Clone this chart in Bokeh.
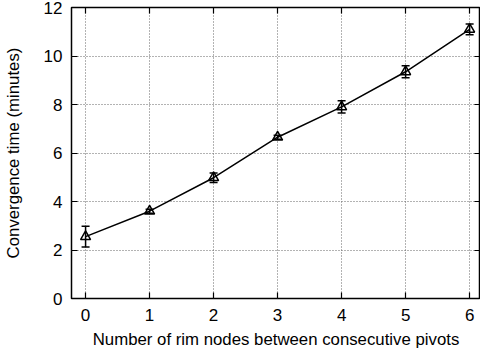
from bokeh.plotting import figure
from bokeh.models import (ColumnDataSource, Whisker, LinearAxis, FixedTicker, Range1d,
                          CustomJSTickFormatter)
from bokeh.embed import file_html
from bokeh.resources import INLINE

rim_nodes = [0, 1, 2, 3, 4, 5, 6]
conv_time = [2.55, 3.6, 4.98, 6.65, 7.9, 9.35, 11.1]
err = [0.43, 0.08, 0.2, 0.08, 0.25, 0.25, 0.22]
x_ticks = [0, 1, 2, 3, 4, 5, 6]
y_ticks = [0, 2, 4, 6, 8, 10, 12]

lower = [v - e for v, e in zip(conv_time, err)]
upper = [v + e for v, e in zip(conv_time, err)]
src = ColumnDataSource(dict(x=rim_nodes, y=conv_time, lo=lower, hi=upper))

FONT = "Liberation Sans"

p = figure(frame_width=409, frame_height=291, output_backend="svg", toolbar_location=None,
           x_range=Range1d(-0.22, 6.17), y_range=Range1d(0, 12),
           min_border_left=64, min_border_top=14, min_border_right=0, min_border_bottom=48,
           margin=(-7, 0, 0, 0))
p.outline_line_color = "black"
p.outline_line_width = 1.5

p.xaxis.axis_label = "Number of rim nodes between consecutive pivots"
p.yaxis.axis_label = "Convergence time (minutes)"
for ax in (p.xaxis[0], p.yaxis[0]):
    ax.axis_label_text_font = FONT
    ax.axis_label_text_font_style = "normal"
    ax.axis_label_text_font_size = "16.8px"
    ax.axis_label_text_color = "black"
    ax.major_label_text_font = FONT
    ax.major_label_text_font_size = "17px"
    ax.major_label_text_color = "black"
    ax.major_tick_in = 6
    ax.major_tick_out = 0
    ax.minor_tick_line_color = None
    ax.axis_line_color = None
    ax.major_tick_line_color = "black"
    ax.major_tick_line_width = 1.2
p.xaxis.ticker = FixedTicker(ticks=x_ticks)
p.yaxis.ticker = FixedTicker(ticks=y_ticks)
p.xaxis.major_label_standoff = 10
p.yaxis.major_label_standoff = 9
p.xaxis.axis_label_standoff = 6
p.yaxis.axis_label_standoff = 18

blank = CustomJSTickFormatter(code="return '';")
for loc, tk in (("above", x_ticks), ("right", y_ticks)):
    ax = LinearAxis(ticker=FixedTicker(ticks=tk), major_tick_in=6, major_tick_out=0,
                    minor_tick_line_color=None, axis_line_color=None,
                    formatter=blank, major_label_standoff=0,
                    major_label_text_font_size="1px",
                    major_tick_line_width=1.2)
    p.add_layout(ax, loc)

p.xgrid.ticker = FixedTicker(ticks=x_ticks)
p.ygrid.ticker = FixedTicker(ticks=y_ticks)
p.grid.grid_line_color = "#666666"
p.grid.grid_line_dash = "1 2"
p.grid.grid_line_width = 1

p.line("x", "y", source=src, line_color="black", line_width=1.5)
w = Whisker(source=src, base="x", lower="lo", upper="hi", line_color="black", line_width=1.5)
w.upper_head.size = 8
w.lower_head.size = 8
w.upper_head.line_width = 1.5
w.lower_head.line_width = 1.5
p.add_layout(w)
p.scatter("x", "y", source=src, marker="triangle", size=10, fill_color=None,
          line_color="black", line_width=1.5)

open("out.html", "w").write(file_html(p, INLINE))
